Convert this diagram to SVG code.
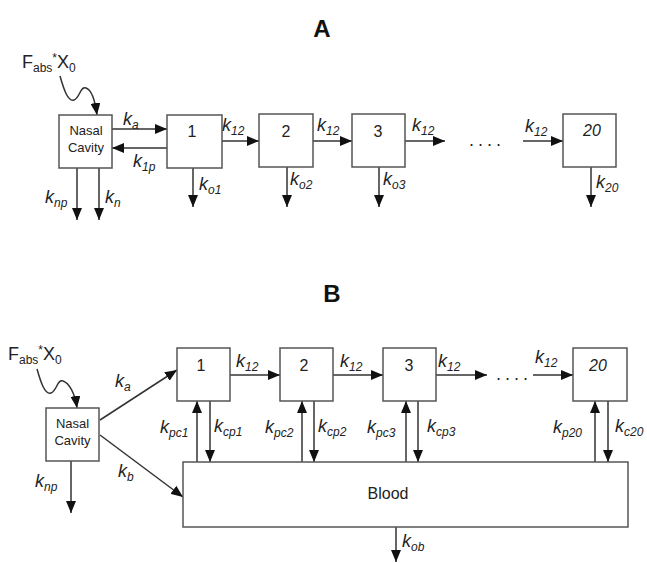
<svg xmlns="http://www.w3.org/2000/svg" width="647" height="563" viewBox="0 0 647 563">
<defs>
<marker id="ah" markerUnits="userSpaceOnUse" markerWidth="12" markerHeight="10" refX="12" refY="5" orient="auto">
<path d="M0,0 L12,5 L0,10 z" fill="#111"/>
</marker>
<style>
.box{fill:#fff;stroke:#555;stroke-width:1.5}
.ln{stroke:#333;stroke-width:1.5;fill:none;marker-end:url(#ah)}
text{font-family:"Liberation Sans",Arial,sans-serif;fill:#222}
.k{font-style:italic;font-size:18px}
.s{font-size:12px}
.num{font-size:16px;text-anchor:middle}
.nc{font-size:13px;text-anchor:middle}
.t{font-size:24px;font-weight:bold;text-anchor:middle;fill:#111}
.f{font-size:18px}
.dots{font-size:18px;letter-spacing:4px}
</style>
</defs>
<rect width="647" height="563" fill="#fff"/>

<text class="t" x="322" y="37">A</text>
<text class="t" x="332" y="302">B</text>

<g id="connectors">
<path class="ln" d="M60,76 C64,90 68,102 74,100 C80,98 80,86 86,88 C92,90 95,100 97,115"/>
<path class="ln" d="M112,129 L167,129"/>
<path class="ln" d="M167,148 L112,148"/>
<path class="ln" d="M77,168 L77,220"/>
<path class="ln" d="M99,168 L99,220"/>
<path class="ln" d="M193,168 L193,207"/>
<path class="ln" d="M222,141 L259,141"/>
<path class="ln" d="M313,141 L352,141"/>
<path class="ln" d="M405,141 L445,141"/>
<path class="ln" d="M523,141 L563,141"/>
<path class="ln" d="M287,167 L287,207"/>
<path class="ln" d="M379,167 L379,207"/>
<path class="ln" d="M591,167 L591,207"/>

<path class="ln" d="M37,369 C41,383 45,395 51,393 C57,391 57,379 63,381 C69,383 75,393 77,408"/>
<path class="ln" d="M100,420 L177,370"/>
<path class="ln" d="M100,435 L183,497"/>
<path class="ln" d="M71,461 L71,513"/>
<path class="ln" d="M230,375 L280,375"/>
<path class="ln" d="M333,375 L383,375"/>
<path class="ln" d="M436,375 L487,375"/>
<path class="ln" d="M533,375 L573,375"/>
<path class="ln" d="M197,462 L197,401"/>
<path class="ln" d="M210,401 L210,462"/>
<path class="ln" d="M302,462 L302,401"/>
<path class="ln" d="M314,401 L314,462"/>
<path class="ln" d="M406,462 L406,401"/>
<path class="ln" d="M418,401 L418,462"/>
<path class="ln" d="M595,462 L595,401"/>
<path class="ln" d="M608,401 L608,462"/>
<path class="ln" d="M396,527 L396,562"/>
</g>

<g id="labels">
<text class="f" x="22" y="68">F<tspan class="s" dy="4">abs</tspan><tspan class="s" dy="-10">*</tspan><tspan class="f" dy="6">X</tspan><tspan class="s" dy="4">0</tspan></text>
<text class="k" x="123" y="125">k<tspan class="s" dy="4">a</tspan></text>
<text class="k" x="133" y="167">k<tspan class="s" dy="4">1p</tspan></text>
<text class="k" x="45" y="203">k<tspan class="s" dy="4">np</tspan></text>
<text class="k" x="105" y="203">k<tspan class="s" dy="4">n</tspan></text>
<text class="k" x="199" y="190">k<tspan class="s" dy="4">o1</tspan></text>
<text class="k" x="222" y="131">k<tspan class="s" dy="4">12</tspan></text>
<text class="k" x="317" y="131">k<tspan class="s" dy="4">12</tspan></text>
<text class="k" x="412" y="131">k<tspan class="s" dy="4">12</tspan></text>
<text class="k" x="525" y="132">k<tspan class="s" dy="4">12</tspan></text>
<text class="dots" x="469" y="146">....</text>
<text class="k" x="290" y="185">k<tspan class="s" dy="4">o2</tspan></text>
<text class="k" x="383" y="185">k<tspan class="s" dy="4">o3</tspan></text>
<text class="k" x="596" y="188">k<tspan class="s" dy="4">20</tspan></text>

<text class="f" x="8" y="360">F<tspan class="s" dy="4">abs</tspan><tspan class="s" dy="-10">*</tspan><tspan class="f" dy="6">X</tspan><tspan class="s" dy="4">0</tspan></text>
<text class="k" x="115" y="387">k<tspan class="s" dy="4">a</tspan></text>
<text class="k" x="118" y="477">k<tspan class="s" dy="4">b</tspan></text>
<text class="k" x="35" y="487">k<tspan class="s" dy="4">np</tspan></text>
<text class="k" x="236" y="367">k<tspan class="s" dy="4">12</tspan></text>
<text class="k" x="340" y="367">k<tspan class="s" dy="4">12</tspan></text>
<text class="k" x="438" y="367">k<tspan class="s" dy="4">12</tspan></text>
<text class="k" x="535" y="363">k<tspan class="s" dy="4">12</tspan></text>
<text class="dots" x="496" y="380">....</text>
<text class="k" x="160" y="433">k<tspan class="s" dy="4">pc1</tspan></text>
<text class="k" x="214" y="432">k<tspan class="s" dy="4">cp1</tspan></text>
<text class="k" x="265" y="433">k<tspan class="s" dy="4">pc2</tspan></text>
<text class="k" x="318" y="432">k<tspan class="s" dy="4">cp2</tspan></text>
<text class="k" x="367" y="433">k<tspan class="s" dy="4">pc3</tspan></text>
<text class="k" x="427" y="432">k<tspan class="s" dy="4">cp3</tspan></text>
<text class="k" x="553" y="433">k<tspan class="s" dy="4">p20</tspan></text>
<text class="k" x="615" y="432">k<tspan class="s" dy="4">c20</tspan></text>
<text class="k" x="402" y="547">k<tspan class="s" dy="4">ob</tspan></text>
</g>

<g id="nasalA"><rect class="box" x="59" y="115" width="53" height="53"/><text class="nc" x="86" y="135">Nasal</text><text class="nc" x="86" y="152">Cavity</text></g>
<g id="a1"><rect class="box" x="167" y="115" width="55" height="53"/><text class="num" x="192" y="137">1</text></g>
<g id="a2"><rect class="box" x="259" y="114" width="54" height="53"/><text class="num" x="286" y="137">2</text></g>
<g id="a3"><rect class="box" x="352" y="114" width="53" height="53"/><text class="num" x="378" y="137">3</text></g>
<g id="a20"><rect class="box" x="563" y="114" width="53" height="53"/><text class="num" x="592" y="136" font-style="italic">20</text></g>

<g id="nasalB"><rect class="box" x="46" y="408" width="53" height="53"/><text class="nc" x="72.5" y="428">Nasal</text><text class="nc" x="72.5" y="445">Cavity</text></g>
<g id="b1"><rect class="box" x="177" y="348" width="53" height="53"/><text class="num" x="201" y="371">1</text></g>
<g id="b2"><rect class="box" x="280" y="348" width="53" height="53"/><text class="num" x="304" y="371">2</text></g>
<g id="b3"><rect class="box" x="383" y="348" width="53" height="53"/><text class="num" x="409" y="371">3</text></g>
<g id="b20"><rect class="box" x="573" y="348" width="54" height="53"/><text class="num" x="598" y="371" font-style="italic">20</text></g>
<g id="blood"><rect class="box" x="183" y="462" width="445" height="65"/><text class="num" x="388" y="499">Blood</text></g>
</svg>
